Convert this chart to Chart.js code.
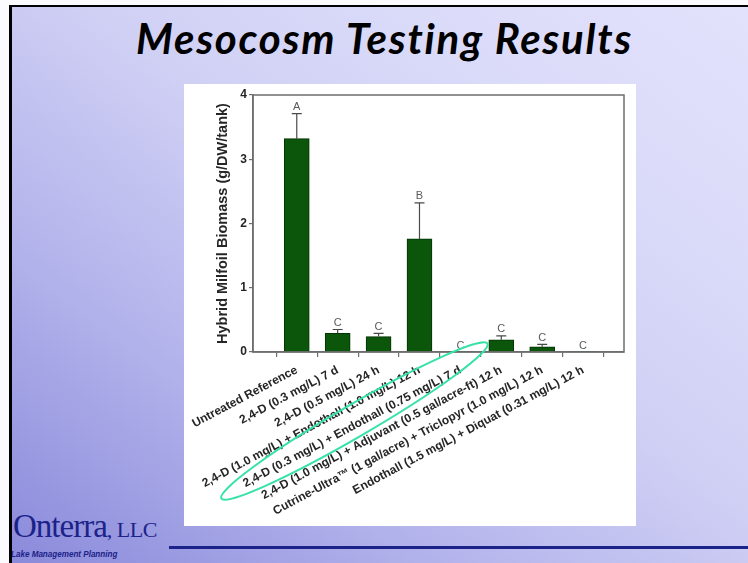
<!DOCTYPE html>
<html>
<head>
<meta charset="utf-8">
<script src="https://cdn.jsdelivr.net/npm/chart.js@4"></script>
<style>
  html, body { margin: 0; padding: 0; background: #fbfbff; }
  #slide {
    position: absolute; left: 9px; top: 5px; width: 736px; height: 556px;
    border-top: 2px solid #000; border-left: 3px solid #000;
    background: linear-gradient(to top right, #8a8adb 0%, #b4b4ec 30%, #d0d0f5 55%, #dcdcfa 80%, #e2e2fc 100%);
    overflow: hidden;
  }
  #title {
    position: absolute; left: 0; top: 6px; width: 745px; text-align: center; white-space: nowrap;
    font: italic bold 42px Lato, sans-serif; letter-spacing: 1.7px; color: #000;
  }
  #box { position: absolute; left: 172px; top: 77px; width: 452px; height: 442px; background: #fff; }
  #logo { position: absolute; left: 1px; top: 501px; color: #1b2288; white-space: nowrap; }
  #logo .name { font: 33px "Liberation Serif", serif; letter-spacing: -1px; }
  #logo .llc { font: 22px "Liberation Serif", serif; letter-spacing: -0.5px; }
  #logo .sub {
    position: absolute; left: -2px; top: 40px;
    font: italic bold 9.5px "Liberation Sans", sans-serif;
    transform: scaleX(0.85); transform-origin: left top;
  }
  #rule { position: absolute; left: 157px; top: 539px; width: 590px; height: 3px; background: #1b2288; }
</style>
</head>
<body>
<div id="slide">
  <div id="title">Mesocosm Testing Results</div>
  <div id="box"><canvas id="chart" width="452" height="442"></canvas></div>
  <div id="logo"><span class="name">Onterra</span><span class="llc">, LLC</span><div class="sub">Lake Management Planning</div></div>
  <div id="rule"></div>
</div>
<script>
// treatments, in plotting order
const treatments = [
  'Untreated Reference',
  '2,4-D (0.3 mg/L) 7 d',
  '2,4-D (0.5 mg/L) 24 h',
  '2,4-D (1.0 mg/L) + Endothall (1.0 mg/L) 12 h',
  '2,4-D (0.3 mg/L) + Endothall (0.75 mg/L) 7 d',
  '2,4-D (1.0 mg/L) + Adjuvant (0.5 gal/acre-ft) 12 h',
  'Cutrine-Ultra\u2122 (1 gal/acre) + Triclopyr (1.0 mg/L) 12 h',
  'Endothall (1.5 mg/L) + Diquat (0.31 mg/L) 12 h'
];
const xPos = [1, 2, 3, 4, 5, 6, 7, 8];
const biomass = [3.32, 0.29, 0.24, 1.76, 0, 0.19, 0.08, 0];   // mean g DW / tank
const errUpper = [3.71, 0.35, 0.29, 2.32, null, 0.25, 0.12, null]; // mean + SE
const groups = ['A', 'C', 'C', 'B', 'C', 'C', 'C', 'C'];
const yTicks = [0, 1, 2, 3, 4];

const AXIS = '#6e6e6e';
const TXT = '#262626';
const FONT = '"Liberation Sans", Arial, sans-serif';

// closes the box round the plot area
const frame = {
  id: 'frame',
  afterDraw(chart) {
    const { ctx, chartArea: a } = chart;
    ctx.save();
    ctx.strokeStyle = AXIS;
    ctx.lineWidth = 1.5;
    ctx.strokeRect(a.left, a.top, a.right - a.left, a.bottom - a.top);
    ctx.restore();
  }
};

// upper error whiskers and the significance letters
const whiskers = {
  id: 'whiskers',
  afterDatasetsDraw(chart) {
    const { ctx, scales: { x, y } } = chart;
    ctx.save();
    ctx.strokeStyle = '#4a4a4a';
    ctx.lineWidth = 1.2;
    ctx.fillStyle = '#5a5a5a';
    ctx.font = '11px ' + FONT;
    ctx.textAlign = 'center';
    ctx.textBaseline = 'bottom';
    xPos.forEach((v, i) => {
      const px = x.getPixelForValue(v);
      let top = y.getPixelForValue(biomass[i]);
      if (errUpper[i] != null) {
        const hi = y.getPixelForValue(errUpper[i]);
        ctx.beginPath();
        ctx.moveTo(px, top); ctx.lineTo(px, hi);
        ctx.moveTo(px - 5, hi); ctx.lineTo(px + 5, hi);
        ctx.stroke();
        top = hi;
      }
      ctx.fillText(groups[i], px, top - 1);
    });
    ctx.restore();
  }
};

// hand-drawn ring round the 2,4-D + endothall 7 d label
const ring = {
  id: 'ring',
  afterDraw(chart) {
    const { ctx, scales: { x, y } } = chart;
    const cx = x.getPixelForValue(5) - 106;
    const cy = y.getPixelForValue(0) + 69;
    ctx.save();
    ctx.strokeStyle = '#36e2a6';
    ctx.lineWidth = 2;
    ctx.beginPath();
    ctx.ellipse(cx, cy, 154, 16, -30.2 * Math.PI / 180, 0, Math.PI * 2);
    ctx.stroke();
    ctx.restore();
  }
};

new Chart(document.getElementById('chart'), {
  type: 'bar',
  data: {
    datasets: [{
      data: xPos.map((v, i) => ({ x: v, y: biomass[i] })),
      backgroundColor: '#0b560b',
      borderColor: '#053305',
      borderWidth: c => (c.raw && c.raw.y > 0 ? 1 : 0),
      barThickness: 25
    }]
  },
  options: {
    responsive: false,
    animation: false,
    events: [],
    layout: { padding: { top: 11, right: 12, left: 0, bottom: 0 }, autoPadding: false },
    plugins: { legend: { display: false }, tooltip: { enabled: false } },
    scales: {
      x: {
        type: 'linear', min: -0.07, max: 9, offset: false,
        afterBuildTicks: s => { s.ticks = xPos.map(v => ({ value: v })); },
        // long slanted labels must not push the plot area inward
        afterFit: s => { s.height = 174; s.paddingLeft = 0; s.paddingRight = 0; },
        ticks: {
          callback: v => treatments[xPos.indexOf(v)],
          minRotation: 28, maxRotation: 28, autoSkip: false,
          color: TXT, padding: 6,
          font: { family: FONT, size: 12, weight: 'bold' }
        },
        grid: { drawOnChartArea: false, tickLength: 5, color: AXIS, lineWidth: 1.2 },
        border: { color: AXIS, width: 1.5 }
      },
      y: {
        min: 0, max: 4,
        afterBuildTicks: s => { s.ticks = yTicks.map(v => ({ value: v })); },
        afterFit: s => { s.width = 69; s.paddingTop = 0; s.paddingBottom = 0; },
        ticks: {
          color: TXT, padding: 2,
          font: { family: FONT, size: 12, weight: 'bold' }
        },
        grid: { drawOnChartArea: false, tickLength: 4, color: AXIS, lineWidth: 1.2 },
        border: { color: AXIS, width: 1.5 },
        title: {
          display: true, text: 'Hybrid Milfoil Biomass (g/DW/tank)', color: TXT,
          padding: { top: 30, bottom: 0 },
          font: { family: FONT, size: 14.5, weight: 'bold' }
        }
      }
    }
  },
  plugins: [frame, whiskers, ring]
});
</script>
</body>
</html>
